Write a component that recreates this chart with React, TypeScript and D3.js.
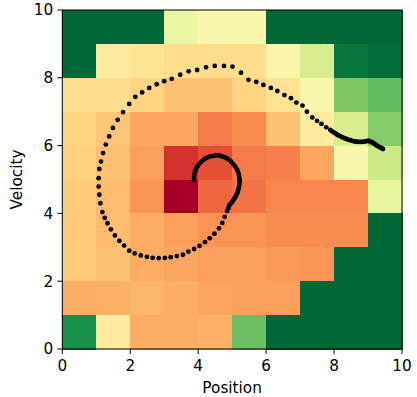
import React from 'react';
import * as d3 from 'd3';

// heatmap values (0..1 on RdYlGn), rows from top (velocity 9-10) down to bottom (0-1)
const gridRows: number[][] = [
  [1.0, 1.0, 1.0, 0.55, 0.5, 0.5, 1.0, 1.0, 1.0, 1.0],
  [1.0, 0.44, 0.42, 0.4, 0.4, 0.4, 0.48, 0.6, 0.97, 0.99],
  [0.4, 0.4, 0.38, 0.34, 0.34, 0.38, 0.41, 0.49, 0.76, 0.8],
  [0.38, 0.35, 0.29, 0.29, 0.22, 0.25, 0.34, 0.44, 0.6, 0.75],
  [0.37, 0.34, 0.28, 0.1, 0.15, 0.22, 0.23, 0.29, 0.5, 0.62],
  [0.36, 0.33, 0.26, 0.0, 0.19, 0.21, 0.24, 0.24, 0.24, 0.56],
  [0.36, 0.33, 0.3, 0.28, 0.26, 0.26, 0.25, 0.25, 0.25, 1.0],
  [0.36, 0.34, 0.3, 0.29, 0.28, 0.28, 0.27, 0.26, 1.0, 1.0],
  [0.3, 0.31, 0.32, 0.3, 0.29, 0.28, 0.28, 1.0, 1.0, 1.0],
  [0.92, 0.44, 0.3, 0.3, 0.31, 0.79, 1.0, 1.0, 1.0, 1.0],
];

// trajectory (dense where the dots merge into a line)
const trajPos: number[] = [
  3.88, 3.88, 3.89, 3.91, 3.94, 3.98, 4.03, 4.09, 4.15, 4.21, 4.28, 4.36, 4.43, 4.5, 4.57,
  4.65, 4.72, 4.79, 4.85, 4.91, 4.97, 5.02, 5.07, 5.11, 5.15, 5.18, 5.2, 5.21, 5.22, 5.22,
  5.21, 5.2, 5.18, 5.16, 5.13, 5.1, 5.07, 5.04, 5.01, 4.97, 4.92, 4.89, 4.85, 4.78, 4.71,
  4.61, 4.48, 4.34, 4.2, 4.04, 3.88, 3.71, 3.55, 3.37, 3.19, 3.02, 2.84, 2.66, 2.49, 2.31,
  2.13, 1.97, 1.82, 1.68, 1.55, 1.43, 1.33, 1.25, 1.18, 1.12, 1.09, 1.07, 1.07, 1.09, 1.14,
  1.2, 1.28, 1.38, 1.49, 1.63, 1.79, 1.97, 2.15, 2.35, 2.56, 2.78, 3.0, 3.22, 3.47, 3.72,
  3.97, 4.23, 4.49, 4.76, 5.01, 5.26, 5.48, 5.71, 5.92, 6.14, 6.33, 6.54, 6.73, 6.89, 7.07,
  7.2, 7.36, 7.5, 7.63, 7.77, 7.89, 7.94, 7.99, 8.04, 8.08, 8.13, 8.18, 8.23, 8.28, 8.33,
  8.38, 8.43, 8.48, 8.53, 8.57, 8.62, 8.67, 8.72, 8.77, 8.82, 8.87, 8.91, 8.95, 8.99, 9.02,
  9.06, 9.1, 9.13, 9.16, 9.2, 9.24, 9.27, 9.31, 9.35, 9.38, 9.41, 9.44,
];
const trajVel: number[] = [
  4.99, 5.08, 5.16, 5.24, 5.32, 5.39, 5.46, 5.52, 5.58, 5.62, 5.65, 5.68, 5.69, 5.71, 5.71,
  5.7, 5.68, 5.65, 5.62, 5.58, 5.53, 5.47, 5.41, 5.35, 5.28, 5.2, 5.13, 5.06, 4.99, 4.92,
  4.84, 4.76, 4.69, 4.62, 4.56, 4.5, 4.45, 4.4, 4.35, 4.3, 4.25, 4.16, 4.07, 3.9, 3.72,
  3.56, 3.4, 3.27, 3.15, 3.04, 2.95, 2.87, 2.78, 2.74, 2.71, 2.69, 2.68, 2.69, 2.72, 2.76,
  2.82, 2.9, 3.05, 3.19, 3.35, 3.53, 3.71, 3.87, 4.04, 4.3, 4.55, 4.79, 5.04, 5.31, 5.53,
  5.78, 6.03, 6.27, 6.52, 6.76, 6.99, 7.23, 7.44, 7.57, 7.7, 7.81, 7.9, 7.97, 8.09, 8.19,
  8.23, 8.31, 8.35, 8.35, 8.33, 8.15, 7.94, 7.88, 7.79, 7.7, 7.61, 7.49, 7.4, 7.27, 7.18,
  7.0, 6.83, 6.73, 6.64, 6.54, 6.46, 6.42, 6.39, 6.36, 6.33, 6.3, 6.28, 6.25, 6.23, 6.21,
  6.19, 6.17, 6.16, 6.14, 6.13, 6.12, 6.12, 6.11, 6.11, 6.11, 6.12, 6.12, 6.13, 6.14, 6.14,
  6.12, 6.11, 6.09, 6.07, 6.04, 6.02, 5.99, 5.97, 5.95, 5.93, 5.92, 5.9,
];

const ticks = [0, 2, 4, 6, 8, 10];

const W = 417;
const H = 397;
const font = '"DejaVu Sans", sans-serif';

export default function App() {
  const x = d3.scaleLinear().domain([0, 10]).range([62.3, 402]);
  const y = d3.scaleLinear().domain([0, 10]).range([349, 10]);
  const nRows = gridRows.length;

  const cells = gridRows.flatMap((row, r) =>
    row.map((v, c) => ({ c, r: nRows - 1 - r, v }))
  );

  const points = trajPos.map((p, i) => ({ p, v: trajVel[i] }));

  return (
    <svg
      width={W}
      height={H}
      style={{ position: 'absolute', left: 0, top: 0, background: '#fff' }}
      fontFamily={font}
    >
      <g shapeRendering="crispEdges">
        {cells.map((d, i) => (
          <rect
            key={i}
            x={x(d.c)}
            y={y(d.r + 1)}
            width={x(d.c + 1) - x(d.c) + 0.5}
            height={y(d.r) - y(d.r + 1) + 0.5}
            fill={d3.interpolateRdYlGn(d.v)}
          />
        ))}
      </g>

      <g>
        {points.map((d, i) => (
          <circle key={i} cx={x(d.p)} cy={y(d.v)} r={2.4} fill="#000" />
        ))}
      </g>

      <rect
        x={x(0)}
        y={y(10)}
        width={x(10) - x(0)}
        height={y(0) - y(10)}
        fill="none"
        stroke="#000"
        strokeWidth={1}
      />

      {/* x axis */}
      {ticks.map((t) => (
        <g key={'x' + t} transform={`translate(${x(t)},${y(0)})`}>
          <line y1={0} y2={5} stroke="#000" strokeWidth={1} />
          <text y={22} textAnchor="middle" fontSize={15.3} fill="#000">
            {t}
          </text>
        </g>
      ))}
      <text x={(x(0) + x(10)) / 2} y={393} textAnchor="middle" fontSize={15.3} fill="#000">
        Position
      </text>

      {/* y axis */}
      {ticks.map((t) => (
        <g key={'y' + t} transform={`translate(${x(0)},${y(t)})`}>
          <line x1={0} x2={-5} stroke="#000" strokeWidth={1} />
          <text x={-9} dy="0.35em" textAnchor="end" fontSize={15.3} fill="#000">
            {t}
          </text>
        </g>
      ))}
      <text
        transform={`translate(22,${(y(0) + y(10)) / 2}) rotate(-90)`}
        textAnchor="middle"
        fontSize={15.3}
        fill="#000"
      >
        Velocity
      </text>
    </svg>
  );
}
